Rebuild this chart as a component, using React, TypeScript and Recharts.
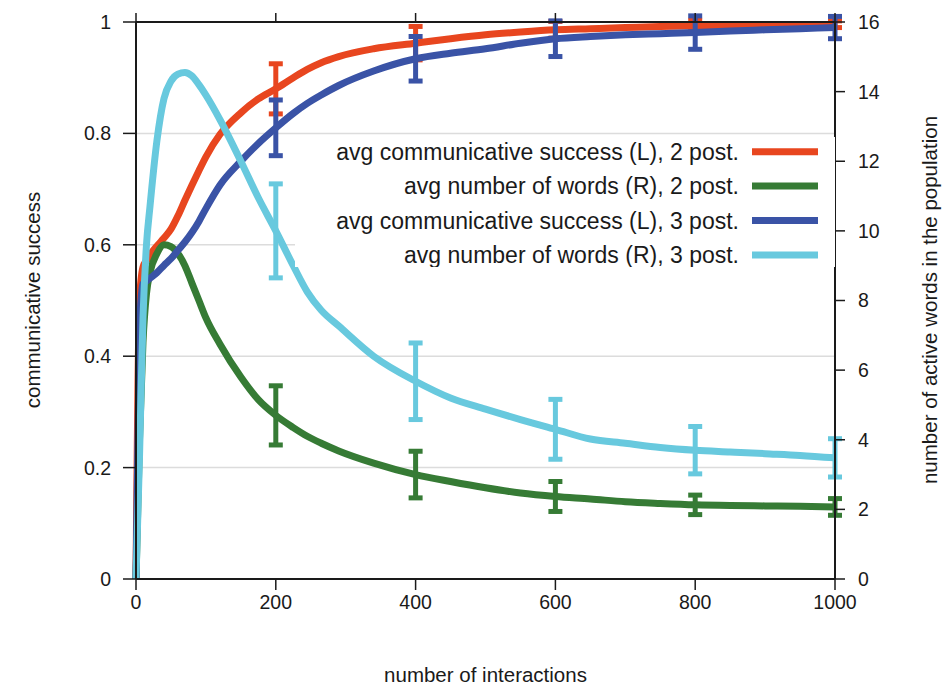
import React from "react";
import { LineChart, Line, XAxis, YAxis, CartesianGrid, ErrorBar, Legend, Label } from "recharts";

// number of interactions
const interactions = [0, 5, 10, 15, 20, 30, 40, 50, 60, 70, 80, 90, 100, 120, 150, 175, 200, 225, 245, 265, 290, 340, 400, 450, 500, 550, 600, 650, 700, 750, 800, 850, 900, 950, 1000];

// avg communicative success (L), 2 post.
const success2 = [0, 0.5, 0.56, 0.572, 0.582, 0.598, 0.612, 0.628, 0.652, 0.68, 0.707, 0.733, 0.758, 0.798, 0.837, 0.862, 0.88, 0.9, 0.915, 0.927, 0.938, 0.952, 0.962, 0.97, 0.977, 0.982, 0.986, 0.988, 0.99, 0.992, 0.993, 0.994, 0.995, 0.995, 0.996];
// avg number of words (R), 2 post.
const words2 = [0, 4.0, 6.8, 8.2, 8.8, 9.35, 9.6, 9.55, 9.35, 9.0, 8.5, 8.0, 7.5, 6.75, 5.8, 5.15, 4.7, 4.35, 4.1, 3.9, 3.68, 3.33, 3.0, 2.8, 2.62, 2.47, 2.37, 2.3, 2.22, 2.17, 2.13, 2.11, 2.1, 2.09, 2.07];
// avg communicative success (L), 3 post.
const success3 = [0, 0.45, 0.53, 0.535, 0.54, 0.55, 0.563, 0.575, 0.59, 0.605, 0.622, 0.642, 0.665, 0.707, 0.75, 0.782, 0.81, 0.836, 0.854, 0.869, 0.886, 0.912, 0.934, 0.944, 0.952, 0.962, 0.97, 0.974, 0.977, 0.979, 0.981, 0.984, 0.986, 0.988, 0.99];
// avg number of words (R), 3 post.
const words3 = [0, 3.5, 7.5, 9.6, 10.7, 12.6, 13.8, 14.3, 14.5, 14.55, 14.45, 14.2, 13.9, 13.2, 12.0, 10.95, 10.0, 9.0, 8.25, 7.72, 7.27, 6.4, 5.68, 5.2, 4.88, 4.58, 4.3, 4.02, 3.9, 3.78, 3.7, 3.65, 3.6, 3.55, 3.48];

// error bars
const errorAt = [200, 400, 600, 800, 1000];
const errSuccess2 = [0.045, 0.03, 0.015, 0.01, 0.006];
const errWords2 = [0.85, 0.67, 0.43, 0.28, 0.24];
const errSuccess3 = [0.05, 0.04, 0.032, 0.03, 0.02];
const errWords3 = [1.35, 1.1, 0.86, 0.68, 0.55];

const xTicks = [0, 200, 400, 600, 800, 1000];
const leftTicks = [0, 0.2, 0.4, 0.6, 0.8, 1];
const rightTicks = [0, 2, 4, 6, 8, 10, 12, 14, 16];

const names = [
  "avg communicative success (L), 2 post.",
  "avg number of words (R), 2 post.",
  "avg communicative success (L), 3 post.",
  "avg number of words (R), 3 post.",
];
const colors = ["#E8461F", "#367B35", "#3A53A6", "#68C9DE"];

const data = interactions.map((x, i) => {
  const k = errorAt.indexOf(x);
  return {
    x,
    s2: success2[i],
    w2: words2[i],
    s3: success3[i],
    w3: words3[i],
    es2: k >= 0 ? errSuccess2[k] : undefined,
    ew2: k >= 0 ? errWords2[k] : undefined,
    es3: k >= 0 ? errSuccess3[k] : undefined,
    ew3: k >= 0 ? errWords3[k] : undefined,
  };
});

const FONT = '"Liberation Sans", Arial, Helvetica, sans-serif';
const tickStyle = { fill: "#1a1a1a", fontSize: 19.5, fontFamily: FONT };

const LegendBox = () => (
  <svg width={540} height={130} style={{ display: "block", background: "#fff" }}>
    {names.map((name, i) => {
      const cy = 14.7 + i * 34.4;
      return (
        <g key={i}>
          <text
            x={444}
            y={cy}
            textAnchor="end"
            dominantBaseline="central"
            fontSize={23}
            fontFamily={FONT}
            fill="#1a1a1a"
          >
            {name}
          </text>
          <line x1={457} x2={523} y1={cy} y2={cy} stroke={colors[i]} strokeWidth={7} />
        </g>
      );
    })}
  </svg>
);

const LeftTitle = () => (
  <text
    x={32}
    y={300}
    transform="rotate(-90 32 300)"
    textAnchor="middle"
    dominantBaseline="central"
    fontSize={20.5}
    fontFamily={FONT}
    fill="#1a1a1a"
  >
    communicative success
  </text>
);

const RightTitle = () => (
  <text
    x={929}
    y={300}
    transform="rotate(-90 929 300)"
    textAnchor="middle"
    dominantBaseline="central"
    fontSize={20.5}
    fontFamily={FONT}
    fill="#1a1a1a"
  >
    number of active words in the population
  </text>
);

export default function App() {
  return (
    <div style={{ position: "absolute", left: 0, top: 0, width: 943, height: 690, background: "#fff" }}>
      <LineChart width={943} height={690} data={data} margin={{ top: 0, right: 0, bottom: 0, left: 0 }}>
        <CartesianGrid yAxisId="left" vertical={false} stroke="#dcdcdc" strokeWidth={1.5} />
        <XAxis
          dataKey="x"
          type="number"
          domain={[0, 1000]}
          ticks={xTicks}
          height={111}
          tickSize={11}
          tickMargin={5}
          tick={tickStyle}
          stroke="#1a1a1a"
          strokeWidth={2}
          tickLine={{ stroke: "#1a1a1a", strokeWidth: 1.5 }}
        >
          <Label
            value="number of interactions"
            position="insideBottom"
            offset={8}
            style={{ fontSize: 20.5, fontFamily: FONT, fill: "#1a1a1a" }}
          />
        </XAxis>
        <XAxis
          xAxisId="top"
          orientation="top"
          dataKey="x"
          type="number"
          domain={[0, 1000]}
          ticks={xTicks}
          height={22}
          tickSize={9}
          tickFormatter={() => ""}
          stroke="#1a1a1a"
          strokeWidth={2}
          tickLine={{ stroke: "#1a1a1a", strokeWidth: 1.5 }}
        />
        <YAxis
          yAxisId="left"
          domain={[0, 1]}
          allowDataOverflow
          ticks={leftTicks}
          width={136}
          tickSize={13}
          tickMargin={12}
          tick={tickStyle}
          tickFormatter={(v: number) => String(v)}
          stroke="#1a1a1a"
          strokeWidth={2}
          tickLine={{ stroke: "#1a1a1a", strokeWidth: 1.5 }}
          label={<LeftTitle />}
        />
        <YAxis
          yAxisId="right"
          orientation="right"
          domain={[0, 16]}
          allowDataOverflow
          ticks={rightTicks}
          width={108}
          tickSize={10}
          tickMargin={13}
          tick={tickStyle}
          stroke="#1a1a1a"
          strokeWidth={2}
          tickLine={{ stroke: "#1a1a1a", strokeWidth: 1.5 }}
          label={<RightTitle />}
        />
        <Legend
          layout="vertical"
          align="center"
          verticalAlign="middle"
          content={<LegendBox />}
          wrapperStyle={{ position: "absolute", left: 295, top: 137, width: 540, height: 130 }}
        />
        <Line
          yAxisId="left"
          dataKey="s2"
          name={names[0]}
          type="monotone"
          stroke={colors[0]}
          strokeWidth={7}
          dot={false}
          activeDot={false}
          isAnimationActive={false}
        >
          <ErrorBar dataKey="es2" width={7} stroke={colors[0]} strokeWidth={5} direction="y" isAnimationActive={false} />
        </Line>
        <Line
          yAxisId="right"
          dataKey="w2"
          name={names[1]}
          type="monotone"
          stroke={colors[1]}
          strokeWidth={7}
          dot={false}
          activeDot={false}
          isAnimationActive={false}
        >
          <ErrorBar dataKey="ew2" width={7} stroke={colors[1]} strokeWidth={5} direction="y" isAnimationActive={false} />
        </Line>
        <Line
          yAxisId="left"
          dataKey="s3"
          name={names[2]}
          type="monotone"
          stroke={colors[2]}
          strokeWidth={7}
          dot={false}
          activeDot={false}
          isAnimationActive={false}
        >
          <ErrorBar dataKey="es3" width={7} stroke={colors[2]} strokeWidth={5} direction="y" isAnimationActive={false} />
        </Line>
        <Line
          yAxisId="right"
          dataKey="w3"
          name={names[3]}
          type="monotone"
          stroke={colors[3]}
          strokeWidth={7}
          dot={false}
          activeDot={false}
          isAnimationActive={false}
        >
          <ErrorBar dataKey="ew3" width={7} stroke={colors[3]} strokeWidth={5} direction="y" isAnimationActive={false} />
        </Line>
      </LineChart>
    </div>
  );
}
